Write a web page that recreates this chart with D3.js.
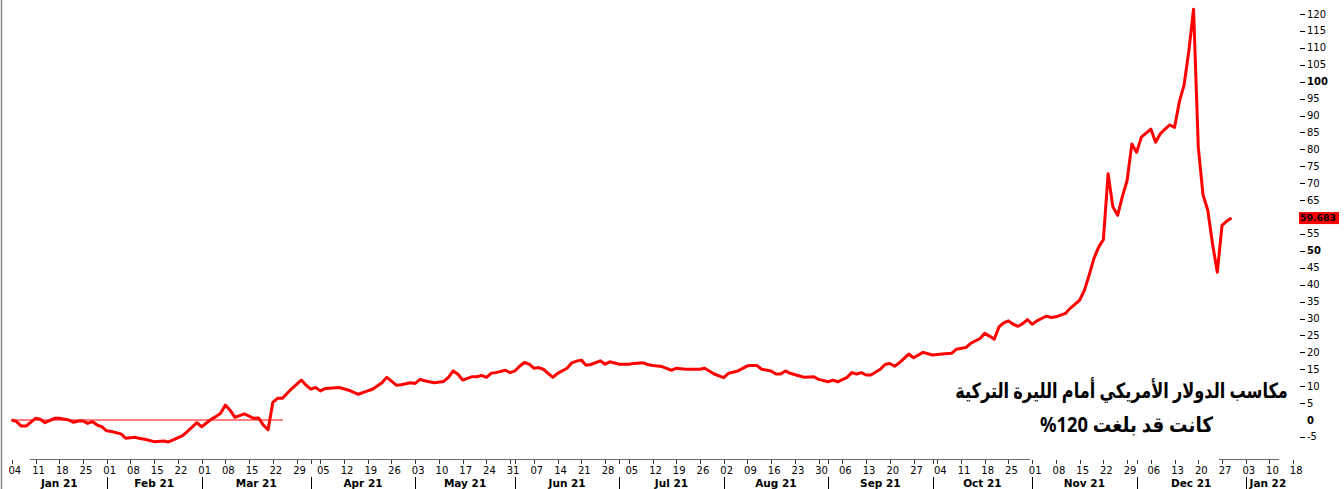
<!DOCTYPE html>
<html><head><meta charset="utf-8">
<script src="https://cdn.jsdelivr.net/npm/d3@7"></script>
<style>
body{margin:0;background:#fff;}
svg{display:block;}
</style></head>
<body>
<svg id="chart" width="1344" height="489"></svg>
<script>
// ---------- data ----------
const dates = [
"2021-01-04","2021-01-05","2021-01-06","2021-01-07","2021-01-11","2021-01-12","2021-01-13","2021-01-15",
"2021-01-18","2021-01-20","2021-01-21","2021-01-22","2021-01-25","2021-01-26","2021-01-27","2021-01-28","2021-01-29",
"2021-02-01","2021-02-02","2021-02-04","2021-02-05","2021-02-09","2021-02-10","2021-02-11","2021-02-15","2021-02-17",
"2021-02-18","2021-02-19","2021-02-23","2021-02-24","2021-02-26",
"2021-03-01","2021-03-03","2021-03-04","2021-03-05","2021-03-08","2021-03-09","2021-03-10","2021-03-12","2021-03-16",
"2021-03-17","2021-03-18","2021-03-19","2021-03-22","2021-03-23","2021-03-24","2021-03-26","2021-03-29","2021-03-30","2021-03-31",
"2021-04-01","2021-04-02","2021-04-05","2021-04-06","2021-04-07","2021-04-09","2021-04-13","2021-04-15","2021-04-19",
"2021-04-20","2021-04-22","2021-04-23","2021-04-26","2021-04-27","2021-04-28","2021-04-30",
"2021-05-03","2021-05-04","2021-05-05","2021-05-07","2021-05-11","2021-05-12","2021-05-13","2021-05-14","2021-05-17",
"2021-05-18","2021-05-19","2021-05-20","2021-05-21","2021-05-24","2021-05-25","2021-05-26","2021-05-28","2021-05-31",
"2021-06-01","2021-06-02","2021-06-03","2021-06-04","2021-06-07","2021-06-08","2021-06-09","2021-06-11","2021-06-14",
"2021-06-16","2021-06-17","2021-06-18","2021-06-21","2021-06-22","2021-06-23","2021-06-25","2021-06-28","2021-06-29",
"2021-07-01","2021-07-05","2021-07-06","2021-07-08","2021-07-09","2021-07-12","2021-07-14","2021-07-16","2021-07-19",
"2021-07-21","2021-07-26","2021-07-27","2021-07-29",
"2021-08-02","2021-08-03","2021-08-05","2021-08-09","2021-08-10","2021-08-11","2021-08-12","2021-08-16","2021-08-17",
"2021-08-18","2021-08-19","2021-08-20","2021-08-24","2021-08-25","2021-08-27","2021-08-30",
"2021-09-01","2021-09-02","2021-09-03","2021-09-07","2021-09-08","2021-09-09","2021-09-10","2021-09-13","2021-09-14",
"2021-09-16","2021-09-17","2021-09-20","2021-09-21","2021-09-22","2021-09-24","2021-09-27","2021-09-29",
"2021-10-01","2021-10-05","2021-10-07","2021-10-08","2021-10-12","2021-10-13","2021-10-15","2021-10-18","2021-10-19",
"2021-10-20","2021-10-21","2021-10-22","2021-10-25","2021-10-26","2021-10-27","2021-10-28","2021-10-29",
"2021-11-01","2021-11-02","2021-11-03","2021-11-04","2021-11-05","2021-11-08","2021-11-09","2021-11-10","2021-11-11",
"2021-11-12","2021-11-15","2021-11-16","2021-11-17","2021-11-18","2021-11-19","2021-11-22","2021-11-23","2021-11-24",
"2021-11-25","2021-11-26","2021-11-29","2021-11-30",
"2021-12-01","2021-12-02","2021-12-03","2021-12-06","2021-12-07","2021-12-08","2021-12-09","2021-12-10","2021-12-13",
"2021-12-14","2021-12-15","2021-12-16","2021-12-17","2021-12-20","2021-12-21","2021-12-22","2021-12-23","2021-12-24",
"2021-12-27","2021-12-28","2021-12-29"
];
const gains = [
0,-0.5,-1.8,-1.8,0.5,0.2,-0.8,0.5,
0.5,0,-0.7,-0.3,-0.3,-1,-0.5,-1.5,-2,
-3.2,-3.4,-4.1,-5.4,-5.1,-5.5,-5.7,-6.4,-6.2,
-6.5,-5.9,-4.6,-3.4,-0.8,
-2,0.2,1,2,4.4,2.9,0.8,1.8,0.5,
0.6,-1.5,-2.9,5.2,6.4,6.4,9.3,10.5,11.8,10.3,
9.1,9.6,8.6,9.3,9.4,9.6,8.8,7.6,8.6,
9.1,11,12.6,11.5,10.3,10.4,11,
10.8,12,11.6,11,11.4,12.6,14.5,13.5,11.8,
12.3,12.8,12.8,13.2,12.6,13.8,14,14.7,14,
14.5,15.9,17,16.5,15.3,15.5,15,12.6,13.8,
15.3,16.9,17.4,17.7,16.2,16.4,17.5,16.5,17.2,
16.5,16.5,16.7,16.9,16.4,16.1,15.8,14.7,15.3,
15,15,15.3,13.6,
12.5,13.8,14.5,16,16.1,16.1,15,14.5,13.6,
13.6,14.5,13.8,13,12.6,12.8,12,
11.3,11.8,11.3,12.6,14,13.6,14,13.3,13.3,
15,16.4,16.7,15.9,16.9,19.5,18.4,20,
19.2,19.5,19.7,20.9,21.4,22.6,24.1,25.6,24.8,
23.9,27.5,28.7,29.3,28.3,27.7,28.5,29.7,
28.3,29.3,30,30.7,30.3,30.5,31,31.5,33,
34.2,35.4,38.3,42.8,47.7,51.1,53.3,72.8,63,
60.5,66,70.8,81.6,
79.1,83.6,84.8,86,82.1,84.6,86,87.2,86.5,
94,99,109,121.4,80.6,66.5,62,52,43.7,
57.5,58.8,59.683
];
const lastValue = "59.683";
const zeroLineEnd = "2021-03-24";

const weekTicks = [
"2021-01-04","2021-01-11","2021-01-18","2021-01-25","2021-02-01","2021-02-08","2021-02-15","2021-02-22",
"2021-03-01","2021-03-08","2021-03-15","2021-03-22","2021-03-29","2021-04-05","2021-04-12","2021-04-19",
"2021-04-26","2021-05-03","2021-05-10","2021-05-17","2021-05-24","2021-05-31","2021-06-07","2021-06-14",
"2021-06-21","2021-06-28","2021-07-05","2021-07-12","2021-07-19","2021-07-26","2021-08-02","2021-08-09",
"2021-08-16","2021-08-23","2021-08-30","2021-09-06","2021-09-13","2021-09-20","2021-09-27","2021-10-04",
"2021-10-11","2021-10-18","2021-10-25","2021-11-01","2021-11-08","2021-11-15","2021-11-22","2021-11-29",
"2021-12-06","2021-12-13","2021-12-20","2021-12-27","2022-01-03","2022-01-10","2022-01-18"
];
const monthStarts = ["2021-01-04","2021-02-01","2021-03-01","2021-04-01","2021-05-03","2021-06-01","2021-07-01",
"2021-08-02","2021-09-01","2021-10-01","2021-11-01","2021-12-01","2022-01-03"];
const monthLabels = ["Jan 21","Feb 21","Mar 21","Apr 21","May 21","Jun 21","Jul 21","Aug 21","Sep 21","Oct 21","Nov 21","Dec 21","Jan 22"];
const holidays = ["2022-01-17"];
const yTicks = [-5,0,5,10,15,20,25,30,35,40,45,50,55,65,70,75,80,85,90,95,100,105,110,115,120];
const yBold = [0,50,100];
const titleLines = ["مكاسب الدولار الأمريكي أمام الليرة التركية","كانت قد بلغت 120%"];

// ---------- helpers ----------
const parse = d3.utcParse("%Y-%m-%d");
const origin = parse("2021-01-04");
const holidayDates = holidays.map(parse);
function session(s){
  const d = parse(s);
  const days = Math.round((d - origin)/864e5);
  let idx = Math.floor(days/7)*5 + Math.min(days%7,5);
  holidayDates.forEach(h=>{ if (h < d) idx -= 1; });
  return idx;
}

const svg = d3.select("#chart");
svg.append("rect").attr("width",1344).attr("height",489).attr("fill","#fff");

const x = d3.scaleLinear().domain([0,270]).range([11.8, 11.8+270*4.746]);
const y = d3.scaleLinear().domain([0,120]).range([420, 14]);

// left border
svg.append("line").attr("x1",1.5).attr("x2",1.5).attr("y1",0).attr("y2",489)
  .attr("stroke","#8a8a8a").attr("stroke-width",1.5);

// bottom axis line segments
[[30,1030],[1219,1279]].forEach(s=>{
  svg.append("line").attr("x1",s[0]).attr("x2",s[1]).attr("y1",459.5).attr("y2",459.5)
    .attr("stroke","#6e6e6e").attr("stroke-width",1);
});

// week ticks
const axisFont = "Tahoma, 'DejaVu Sans', sans-serif";
const gx = svg.append("g");
gx.selectAll("line.wk").data(weekTicks).join("line").attr("class","wk")
  .attr("x1",d=>Math.round(x(session(d)))+0.5).attr("x2",d=>Math.round(x(session(d)))+0.5)
  .attr("y1",460).attr("y2",464).attr("stroke","#333").attr("stroke-width",1);
gx.selectAll("line.ms").data(monthStarts.slice(1)).join("line").attr("class","ms")
  .attr("x1",d=>Math.round(x(session(d)))+0.5).attr("x2",d=>Math.round(x(session(d)))+0.5)
  .attr("y1",460).attr("y2",464).attr("stroke","#333").attr("stroke-width",1);
gx.selectAll("text.wk").data(weekTicks).join("text").attr("class","wk")
  .attr("x",d=>x(session(d))+3).attr("y",474)
  .attr("text-anchor","middle").attr("font-family",axisFont).attr("font-size",10)
  .attr("fill","#000").text(d=>d.slice(8,10));

// month separators and labels
gx.selectAll("line.sep").data(monthStarts.slice(1)).join("line").attr("class","sep")
  .attr("x1",d=>Math.round(x(session(d)))+0.5).attr("x2",d=>Math.round(x(session(d)))+0.5)
  .attr("y1",477).attr("y2",489).attr("stroke","#000").attr("stroke-width",1);
const bounds = monthStarts.map(d=>x(session(d))).concat([1290]);
gx.selectAll("text.mo").data(monthLabels).join("text").attr("class","mo")
  .attr("x",(d,i)=>(bounds[i]+bounds[i+1])/2).attr("y",487)
  .attr("text-anchor","middle").attr("font-family",axisFont).attr("font-size",10.5)
  .attr("font-weight","bold").attr("fill","#000").text(d=>d);

// right axis
const gy = svg.append("g");
gy.selectAll("line").data(yTicks.filter(v=>v!==0)).join("line")
  .attr("x1",1300).attr("x2",1305).attr("y1",d=>Math.round(y(d))+0.5).attr("y2",d=>Math.round(y(d))+0.5)
  .attr("stroke","#000").attr("stroke-width",1);
gy.selectAll("text").data(yTicks).join("text")
  .attr("x",1307).attr("y",d=>y(d)).attr("dy","0.35em")
  .attr("font-family",axisFont).attr("font-size",10)
  .attr("font-weight",d=>yBold.includes(d)?"bold":"normal")
  .attr("fill","#000").text(d=>d);

// zero reference line
svg.append("line").attr("x1",x(0)-1).attr("x2",x(session(zeroLineEnd))+0.5)
  .attr("y1",y(0)).attr("y2",y(0)).attr("stroke","#ff0000").attr("stroke-width",1.2);

// series line
const pts = dates.map((d,i)=>[session(d), gains[i]]);
svg.append("path").datum(pts)
  .attr("d", d3.line().x(d=>x(d[0])).y(d=>y(d[1])))
  .attr("fill","none").attr("stroke","#ff0000").attr("stroke-width",3)
  .attr("stroke-linejoin","round");

// last value box
const ly = y(+lastValue);
svg.append("rect").attr("x",1299).attr("y",ly-6).attr("width",40).attr("height",12).attr("fill","#ff0000");
svg.append("text").attr("x",1300).attr("y",ly).attr("dy","0.35em")
  .attr("font-family",axisFont).attr("font-size",9.3).attr("font-weight","bold")
  .attr("fill","#000").text(lastValue);

// annotation: font sized to the source line widths, then stretched vertically to the source glyph height
const titleX = [1121.5, 1126.5], titleY = [398, 432], titleW = [333, 173];
const baseFs = 21;
svg.selectAll("text.title").data(titleLines).join("text").attr("class","title")
  .attr("x",0).attr("y",0).attr("text-anchor","middle")
  .attr("direction","rtl")
  .attr("font-family","'Noto Sans', 'DejaVu Sans', sans-serif").attr("font-size",baseFs)
  .attr("font-weight","bold").attr("fill","#000").text(d=>d)
  .each(function(d,i){
    const w = this.getComputedTextLength();
    const fs = w > 0 ? baseFs * titleW[i] / w : baseFs;
    const sy = baseFs / fs;
    d3.select(this).attr("font-size", fs)
      .attr("transform", `translate(${titleX[i]},${titleY[i]}) scale(1,${sy})`);
  });
</script>
</body></html>
